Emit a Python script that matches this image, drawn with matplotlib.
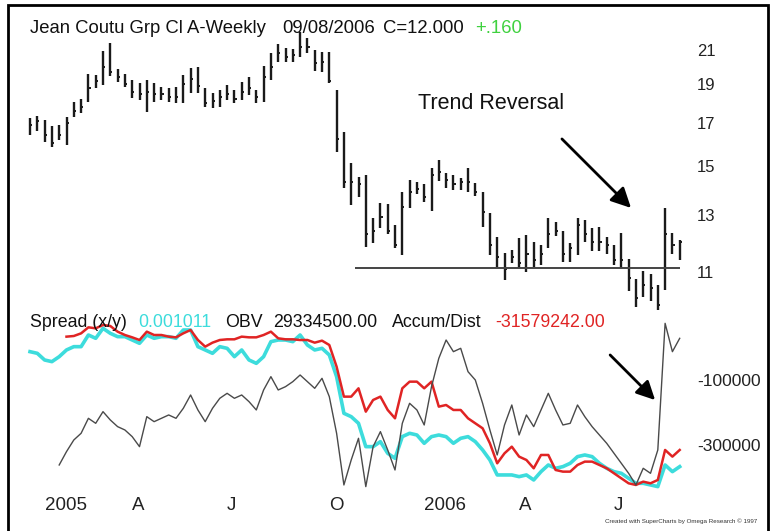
import numpy as np
import matplotlib
matplotlib.use("Agg")
import matplotlib.pyplot as plt
from matplotlib.patches import Rectangle

plt.rcParams['font.family'] = ['Liberation Sans', 'DejaVu Sans']

# weekly bars, first bar = week of 24 Dec 2004, last bar = 09/08/2006
highs = [17.23, 17.33, 17.13, 16.83, 16.88, 17.28, 18.06, 18.21, 19.58, 19.53,
         20.94, 21.42, 19.87, 19.58, 19.25, 19.08, 19.25, 19.08, 18.86, 18.81,
         18.86, 19.53, 19.93, 19.99, 18.81, 18.54, 18.70, 18.97, 18.70, 19.14,
         19.42, 18.70, 20.05, 20.82, 21.36, 21.12, 21.06, 22.13, 21.75, 21.00,
         20.88, 20.88, 18.70, 16.54, 15.11, 14.51, 14.60, 12.88, 13.45, 13.41,
         12.62, 13.89, 14.38, 14.30, 14.22, 14.90, 15.25, 14.68, 14.60, 14.47,
         14.90, 14.26, 13.89, 13.06, 12.18, 11.63, 11.73, 12.15, 12.25, 12.01,
         11.91, 12.88, 12.73, 12.39, 11.97, 12.88, 12.80, 12.50, 12.54, 12.18,
         11.91, 12.33, 11.42, 10.78, 11.04, 10.94, 10.60, 13.25, 12.33, 12.08]
lows = [16.40, 16.59, 16.07, 15.84, 16.16, 15.93, 17.28, 17.48, 18.06, 18.81,
        18.97, 19.47, 19.14, 18.86, 18.27, 18.16, 17.53, 18.06, 18.16, 18.06,
        18.00, 18.00, 18.54, 18.54, 17.79, 17.74, 17.79, 18.16, 18.00, 18.16,
        18.43, 18.00, 18.06, 19.25, 20.28, 20.28, 20.28, 20.58, 20.82, 19.75,
        19.70, 19.08, 15.61, 14.05, 13.37, 13.69, 11.84, 11.98, 12.51, 12.29,
        11.80, 11.56, 13.25, 13.81, 13.49, 13.14, 14.34, 14.05, 13.97, 13.97,
        13.89, 13.73, 12.55, 11.56, 11.17, 10.75, 11.29, 11.13, 11.00, 11.17,
        11.23, 11.80, 12.22, 11.32, 11.32, 11.56, 12.01, 11.70, 11.70, 11.59,
        11.23, 11.13, 10.41, 9.94, 10.23, 10.11, 9.85, 10.44, 11.59, 11.39]
closes = [16.9, 17.1, 16.4, 16.0, 16.4, 17.0, 17.6, 17.8, 18.8, 19.2,
          20.0, 19.7, 19.4, 19.0, 18.6, 18.5, 18.6, 18.5, 18.5, 18.3,
          18.3, 19.0, 19.3, 18.9, 18.0, 18.1, 18.3, 18.5, 18.2, 18.6,
          18.8, 18.3, 19.4, 20.0, 20.8, 20.6, 20.7, 21.2, 21.2, 20.2,
          20.3, 19.2, 16.2, 14.3, 14.3, 14.2, 12.3, 12.4, 12.9, 12.4,
          11.9, 13.3, 13.9, 14.0, 13.7, 14.6, 14.7, 14.4, 14.2, 14.3,
          14.3, 13.9, 13.1, 11.9, 11.5, 11.1, 11.5, 11.3, 11.6, 11.4,
          11.6, 12.3, 12.4, 11.6, 11.8, 12.6, 12.3, 12.0, 12.0, 11.9,
          11.4, 11.4, 10.8, 10.2, 10.6, 10.5, 10.0, 12.3, 11.9, 12.0]
support_level = 11.13

# indicator panel (thousands)
spread = [-12.8, -17.9, -38.4, -43.5, -28.2, -7.6, 2.6, 2.6, 38.5, 28.3,
          59.0, 43.6, 33.4, 33.4, 23.1, 12.9, 38.5, 28.3, 33.4, 33.4,
          28.3, 53.9, 53.9, 2.6, -7.6, -17.9, 2.6, -2.5, -28.2, -7.6,
          -38.4, -48.7, -28.2, 18.0, 23.1, 23.1, 18.0, 38.5, 7.7, -7.6,
          -2.5, -23.0, -89.7, -202.5, -212.8, -233.3, -305.1, -305.1, -289.7, -325.6,
          -341.0, -274.3, -264.0, -269.2, -294.8, -274.3, -269.2, -274.3, -294.8, -279.4,
          -274.3, -289.7, -315.3, -346.1, -392.2, -392.2, -392.2, -397.4, -392.2, -407.6,
          -382.0, -361.5, -371.7, -366.6, -356.3, -335.8, -330.7, -335.8, -356.3, -371.7,
          -382.0, -387.1, -402.5, -417.9, -417.9, -423.0, -428.1, -361.5, -382.0, -366.6]
accum_dist = [None, None, None, None, None, 33.4, 35.4, 43.6, 62.1, 59.0,
              69.3, 66.2, 48.8, 38.5, 31.3, 23.1, 48.8, 38.5, 38.5, 33.4,
              31.3, 43.6, 53.9, 23.1, 2.6, 14.9, 23.1, 25.2, 25.2, 33.4,
              31.3, 31.3, 38.5, 48.8, 28.3, 25.2, 25.2, 23.1, 23.1, 14.9,
              21.1, 7.7, -59.0, -151.2, -151.2, -125.6, -197.4, -161.5, -151.2, -192.2,
              -217.9, -125.6, -105.1, -105.1, -125.6, -105.1, -182.0, -176.9, -192.2, -192.2,
              -217.9, -233.3, -248.6, -294.8, -356.3, -325.6, -305.1, -335.8, -346.1, -371.7,
              -330.7, -330.7, -376.9, -382.0, -382.0, -361.5, -351.2, -351.2, -361.5, -371.7,
              -387.1, -402.5, -417.9, -423.0, -412.8, -417.9, -407.6, -315.3, -335.8, -315.3]
obv = [None, None, None, None, -361.5, -320.4, -284.6, -264.0, -217.9, -233.3,
       -197.4, -223.0, -243.5, -253.8, -274.3, -305.1, -212.8, -228.2, -217.9, -207.6,
       -217.9, -187.1, -146.1, -192.2, -228.2, -187.1, -156.3, -141.0, -156.3, -146.1,
       -166.6, -192.2, -130.7, -89.7, -130.7, -120.5, -105.1, -84.6, -105.1, -125.6,
       -94.8, -151.2, -264.0, -423.0, -346.1, -279.4, -428.1, -305.1, -258.9, -315.3,
       -376.9, -233.3, -171.7, -192.2, -238.4, -120.5, -33.3, 23.1, -12.8, -2.5,
       -74.3, -100.0, -171.7, -253.8, -330.7, -238.4, -176.9, -269.2, -207.6, -243.5,
       -192.2, -141.0, -192.2, -238.4, -233.3, -176.9, -212.8, -243.5, -269.2, -294.8,
       -325.6, -356.3, -387.1, -423.0, -371.7, -387.1, -315.3, 74.4, -12.8, 28.3]

price_ticks = [11, 13, 15, 17, 19, 21]
ind_ticks = [-100, -300]
ind_tick_labels = ["-100000", "-300000"]
month_pos = [2, 14, 27, 41, 54, 67, 80]
month_labels = ["2005", "A", "J", "O", "2006", "A", "J"]

W, H = 778, 531
fig = plt.figure(figsize=(W / 100, H / 100), dpi=100)
fig.patch.set_facecolor("white")


def px(x0, y0, x1, y1):
    return [x0 / W, 1 - y1 / H, (x1 - x0) / W, (y1 - y0) / H]


x = np.arange(len(highs))
xlim = (-1.37, 90.41)

# price panel
ax1 = fig.add_axes(px(20, 28, 690, 312))
ax1.vlines(x, lows, highs, color="#1a1a1a", lw=1.7)
ax1.hlines(closes, x, x + 0.3, color="#1a1a1a", lw=1.4)
ax1.hlines(support_level, 44.5, 89, color="#444444", lw=1.4)
ax1.set_yscale("log")
ax1.set_ylim(9.79, 22.39)
ax1.set_xlim(*xlim)
ax1.yaxis.tick_right()
ax1.set_yticks(price_ticks)
ax1.set_yticklabels([str(t) for t in price_ticks], fontsize=12, color="#222222")
ax1.yaxis.set_minor_locator(matplotlib.ticker.NullLocator())
ax1.tick_params(axis="y", length=0, pad=5)
ax1.set_xticks([])
for s in ax1.spines.values():
    s.set_visible(False)

ax1.text(53.2, 17.95, "Trend Reversal", fontsize=15.5, va="center", ha="left", color="#111111")
ax1.annotate("", xy=(82.6, 13.18), xytext=(72.6, 16.30),
             arrowprops=dict(arrowstyle="-|>", color="black", lw=2, mutation_scale=30))

# indicator panel
ax2 = fig.add_axes(px(20, 318, 690, 490))
xs = x.astype(float)
ax2.plot(xs, spread, color="#3ddcdc", lw=2.6)
ax2.plot(xs, np.array(accum_dist, dtype=float), color="#e02424", lw=1.8)
ax2.plot(xs, np.array(obv, dtype=float), color="#4a4a4a", lw=1.0)
ax2.set_ylim(-438.5, 90.8)
ax2.set_xlim(*xlim)
ax2.yaxis.tick_right()
ax2.set_yticks(ind_ticks)
ax2.set_yticklabels(ind_tick_labels, fontsize=12.5, color="#222222")
ax2.tick_params(axis="y", length=0, pad=5)
ax2.set_xticks(month_pos)
ax2.set_xticklabels(month_labels, fontsize=13.5, color="#222222", ha="left")
ax2.tick_params(axis="x", length=0, pad=5)
for s in ax2.spines.values():
    s.set_visible(False)
ax2.annotate("", xy=(85.9, -167.7), xytext=(79.2, -16.9),
             arrowprops=dict(arrowstyle="-|>", color="black", lw=2, mutation_scale=28))

# header texts
def ftext(xp, yp, s, color="#111111", size=13.3):
    fig.text(xp / W, 1 - yp / H, s, color=color, fontsize=size, ha="left", va="baseline")


ftext(30, 33, "Jean Coutu Grp Cl A-Weekly")
ftext(282, 33, "09/08/2006")
ftext(383, 33, "C=12.000")
ftext(475, 33, "+.160", color="#3fd13f")

ftext(30, 327, "Spread (x/y)", size=12.8)
ftext(138, 327, "0.001011", color="#3ddcdc", size=12.8)
ftext(225, 327, "OBV", size=12.8)
ftext(273, 327, "29334500.00", size=12.8)
ftext(392, 327, "Accum/Dist", size=12.8)
ftext(495, 327, "-31579242.00", color="#e02424", size=12.8)

fig.text(757 / W, 1 - 523 / H, "Created with SuperCharts by Omega Research \u00a9 1997",
         fontsize=4.5, ha="right", va="baseline", color="#333333")

# outer frame
fig.patches.append(Rectangle((8 / W, -0.02), 760 / W, 1 - 5 / H + 0.02, transform=fig.transFigure,
                             fill=False, edgecolor="black", lw=2))

fig.savefig("out.png", dpi=100)
